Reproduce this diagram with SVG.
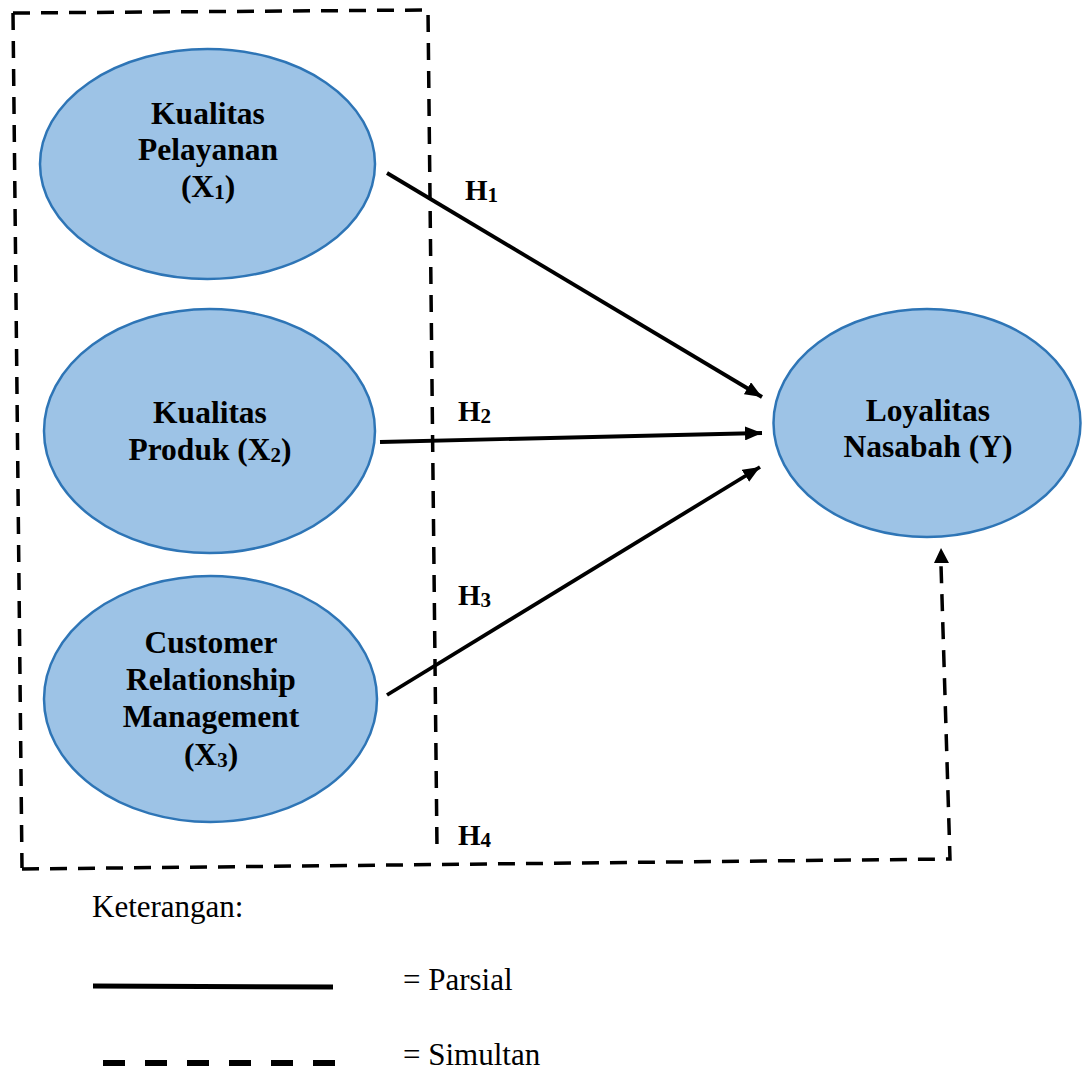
<svg xmlns="http://www.w3.org/2000/svg" width="1082" height="1070" viewBox="0 0 1082 1070">
<style>
.node{fill:#9DC3E6;stroke:#2E75B6;stroke-width:2.5}
.lbl{font-family:"Liberation Serif","Times New Roman",serif;font-weight:bold;font-size:31.5px;fill:#000;text-anchor:middle}
.h{font-family:"Liberation Serif","Times New Roman",serif;font-weight:bold;font-size:29px;fill:#000}
.sub{font-size:21px}
.leg{font-family:"Liberation Serif","Times New Roman",serif;font-size:31px;fill:#000}
.solid{fill:none;stroke:#000;stroke-width:3.8}
.dash{fill:none;stroke:#000;stroke-width:3.5;stroke-dasharray:17 11}
</style>
<defs>
<marker id="ah" viewBox="0 0 17 14" refX="17" refY="7" markerWidth="17" markerHeight="14" markerUnits="userSpaceOnUse" orient="auto">
<path d="M0,0 L17,7 L0,14 z" fill="#000"/>
</marker>
</defs>
<rect width="1082" height="1070" fill="#fff"/>
<g id="box">
<path class="dash" d="M13,13 L428,10 L437,848"/>
<path class="dash" d="M13,13 L22,868"/>
</g>
<g id="connectors">
<line class="solid" x1="387" y1="173" x2="762" y2="397" marker-end="url(#ah)"/>
<line class="solid" x1="380" y1="442" x2="762" y2="433" marker-end="url(#ah)"/>
<line class="solid" x1="387" y1="695" x2="760" y2="467" marker-end="url(#ah)"/>
<path class="dash" d="M22,869 L950,859 L941,565"/>
<path d="M934,563 L941,548 L949,563 z" fill="#000"/>
</g>
<g id="x1">
<ellipse class="node" cx="207.5" cy="164" rx="167.5" ry="115"/>
<text class="lbl" x="208" y="124">Kualitas</text>
<text class="lbl" x="208" y="160">Pelayanan</text>
<text class="lbl" x="208" y="197">(X<tspan class="sub" dy="2">1</tspan><tspan dy="-2">)</tspan></text>
</g>
<g id="x2">
<ellipse class="node" cx="209.5" cy="431" rx="165.5" ry="122"/>
<text class="lbl" x="210" y="423">Kualitas</text>
<text class="lbl" x="210" y="460">Produk (X<tspan class="sub" dy="2">2</tspan><tspan dy="-2">)</tspan></text>
</g>
<g id="x3">
<ellipse class="node" cx="210.5" cy="699" rx="166.5" ry="123"/>
<text class="lbl" x="211" y="653">Customer</text>
<text class="lbl" x="211" y="690">Relationship</text>
<text class="lbl" x="211" y="727">Management</text>
<text class="lbl" x="211" y="765">(X<tspan class="sub" dy="2">3</tspan><tspan dy="-2">)</tspan></text>
</g>
<g id="y">
<ellipse class="node" cx="927" cy="423" rx="153.5" ry="114"/>
<text class="lbl" x="928" y="421">Loyalitas</text>
<text class="lbl" x="928" y="457">Nasabah (Y)</text>
</g>
<g id="labels">
<text class="h" x="465" y="200">H<tspan class="sub" dy="2">1</tspan></text>
<text class="h" x="458" y="421">H<tspan class="sub" dy="2">2</tspan></text>
<text class="h" x="458" y="605">H<tspan class="sub" dy="2">3</tspan></text>
<text class="h" x="458" y="845">H<tspan class="sub" dy="2">4</tspan></text>
</g>
<g id="legend">
<text class="leg" x="92" y="917">Keterangan:</text>
<line x1="93" y1="986" x2="333" y2="987" stroke="#000" stroke-width="5"/>
<text class="leg" x="403" y="990">= Parsial</text>
<line x1="103" y1="1063" x2="337" y2="1063" stroke="#000" stroke-width="6" stroke-dasharray="22 20"/>
<text class="leg" x="403" y="1065">= Simultan</text>
</g>
</svg>
